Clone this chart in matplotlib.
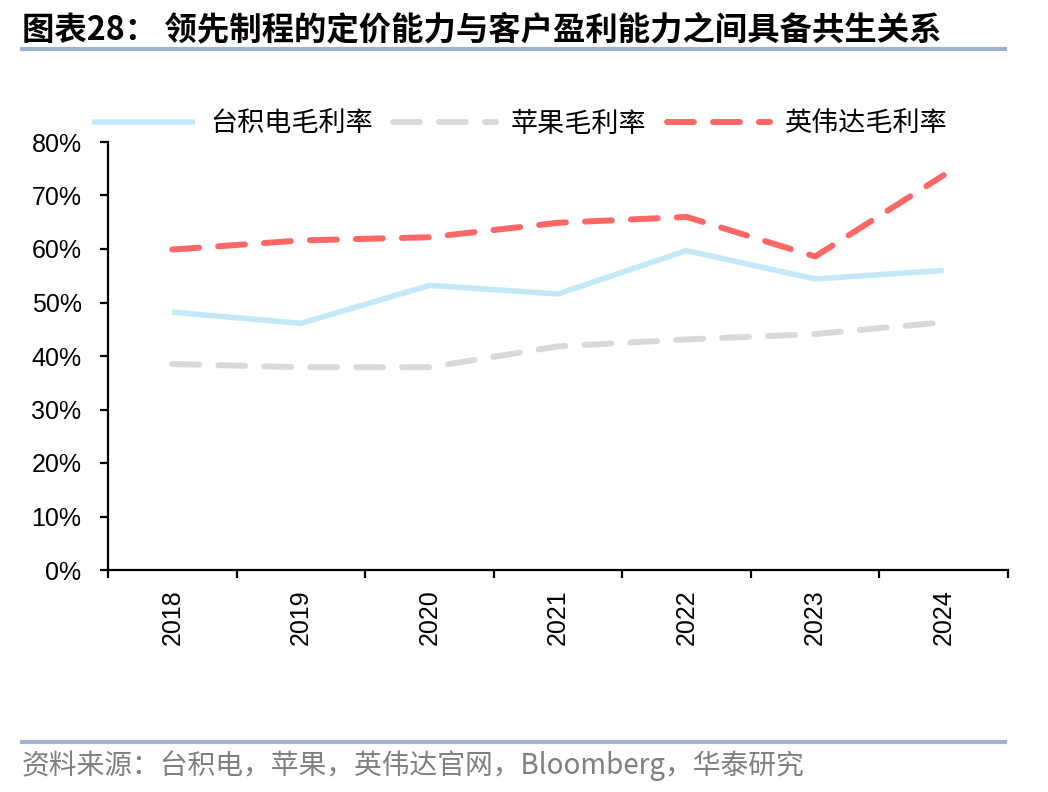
import matplotlib
matplotlib.use("Agg")
import matplotlib.pyplot as plt
from matplotlib.lines import Line2D
import numpy as np

years = ["2018", "2019", "2020", "2021", "2022", "2023", "2024"]
tsmc = [48.2, 46.1, 53.2, 51.6, 59.7, 54.4, 56.0]
apple = [38.5, 37.9, 37.9, 41.8, 43.1, 44.1, 46.3]
nvidia = [59.9, 61.6, 62.2, 64.9, 66.0, 58.6, 73.8]
series_names = ["台积电毛利率", "苹果毛利率", "英伟达毛利率"]
yticks = [0, 10, 20, 30, 40, 50, 60, 70, 80]

plt.rcParams['font.family'] = ['Liberation Sans', 'Noto Sans CJK SC', 'DejaVu Sans']
cjk = ['Noto Sans CJK SC', 'DejaVu Sans']

fig = plt.figure(figsize=(10.48, 7.92), dpi=100)
ax = fig.add_axes([108/1048, 1-570/792, 900/1048, 428/792])

x = np.arange(len(years))
c_blue = "#c3e9f8"
c_gray = "#d9d9d9"
c_red = "#ff6666"
l1, = ax.plot(x, tsmc, color=c_blue, lw=4.0, solid_capstyle='butt', solid_joinstyle='miter')
l2, = ax.plot(x, apple, color=c_gray, lw=4.3, linestyle=(0, (4.5, 3.2)), dash_capstyle='round')
l3, = ax.plot(x, nvidia, color=c_red, lw=4.3, linestyle=(0, (4.5, 3.2)), dash_capstyle='round')

ax.set_xlim(-0.5, len(years) - 0.5)
ax.set_ylim(0, 80)
ax.set_yticks(yticks)
ax.set_yticklabels([f"{v}%" for v in yticks], fontsize=18)
ax.set_xticks(np.arange(len(years) + 1) - 0.5)
ax.set_xticklabels([])
ax.set_xticks(x, minor=True)
ax.set_xticklabels(years, minor=True, rotation=90, fontsize=18)
ax.tick_params(axis='x', which='minor', length=0, pad=14)
ax.tick_params(axis='x', which='major', length=6, width=1.6, direction='out')
ax.tick_params(axis='y', length=6, width=1.6, direction='out', pad=13)
for s in ['top', 'right']:
    ax.spines[s].set_visible(False)
for s in ['left', 'bottom']:
    ax.spines[s].set_linewidth(1.6)

leg = fig.legend([l1, l2, l3], series_names, loc='center left',
                 bbox_to_anchor=(92/1048, 1-124/792),
                 ncol=3, frameon=False, prop={'family': cjk, 'size': 19.5},
                 handlelength=3.8, columnspacing=0.75, handletextpad=0.55,
                 borderpad=0, borderaxespad=0)

fig.text(22/1048, 1-30/792, "图表28： 领先制程的定价能力与客户盈利能力之间具备共生关系",
         fontsize=23.3, fontweight='bold', family=cjk, va='center', ha='left')
fig.add_artist(Line2D([22/1048, 1005/1048], [1-49/792, 1-49/792], color="#9db3cf", lw=3))
fig.add_artist(Line2D([22/1048, 1005/1048], [1-742/792, 1-742/792], color="#9db3cf", lw=3))
fig.text(22/1048, 1-766/792, "资料来源：台积电，苹果，英伟达官网，Bloomberg，华泰研究",
         fontsize=20, color="#808080", family=cjk, va='center', ha='left')

fig.savefig("out.png", dpi=100)
